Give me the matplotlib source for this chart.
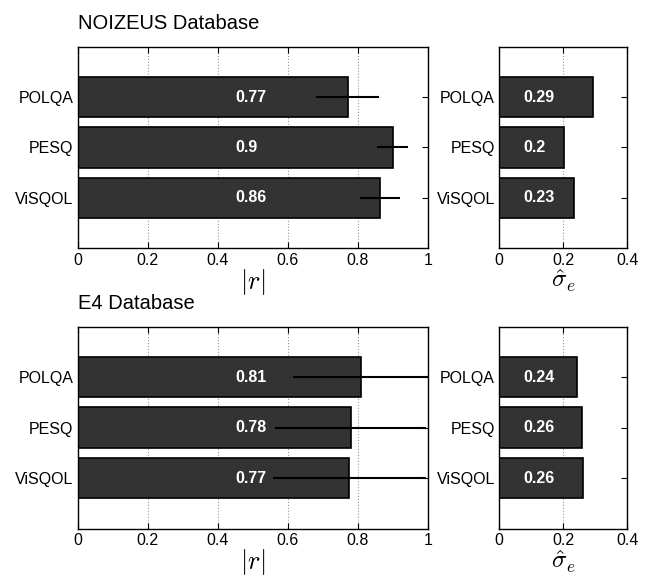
import matplotlib.pyplot as plt
import numpy as np

plt.rcParams['font.family'] = ['Liberation Sans', 'DejaVu Sans']
plt.rcParams['mathtext.fontset'] = 'cm'

# Daten
metrics = ['POLQA', 'PESQ', 'ViSQOL']

noizeus_r = [0.77, 0.90, 0.86]
noizeus_r_bars = [0.772, 0.900, 0.864]
noizeus_r_lo = [0.68, 0.855, 0.805]
noizeus_r_hi = [0.86, 0.943, 0.921]
noizeus_sigma = [0.29, 0.20, 0.23]
noizeus_sigma_bars = [0.294, 0.202, 0.233]

e4_r = [0.81, 0.78, 0.77]
e4_r_bars = [0.807, 0.779, 0.774]
e4_r_lo = [0.613, 0.563, 0.556]
e4_r_hi = [1.0, 0.993, 0.995]
e4_sigma = [0.24, 0.26, 0.26]
e4_sigma_bars = [0.242, 0.259, 0.262]

fig = plt.figure(figsize=(6.49, 5.77), dpi=100)

pos = np.arange(1, len(metrics) + 1)
bar_color = '#333333'


def style_axes(ax, xticks, xlim):
    ax.set_xlim(xlim)
    ax.set_ylim(4, 0)
    ax.set_xticks(xticks)
    ax.set_xticklabels(['%g' % t for t in xticks])
    ax.set_yticks(pos)
    ax.set_yticklabels(metrics)
    ax.tick_params(direction='in', top=True, right=True, labelsize=11.5, length=4)
    ax.tick_params(axis='y', length=4, pad=3)
    ax.xaxis.grid(True, linestyle=':', color='#999999', linewidth=0.8)
    ax.set_axisbelow(True)
    for s in ax.spines.values():
        s.set_linewidth(1.0)


def r_panel(rect, bars, vals, lo, hi, title):
    ax = fig.add_axes(rect)
    ax.barh(pos, bars, height=0.8, color=bar_color, edgecolor='black', linewidth=1.2, zorder=2)
    err = [np.array(bars) - np.array(lo), np.array(hi) - np.array(bars)]
    ax.errorbar(bars, pos, xerr=err, fmt='none', ecolor='black', elinewidth=1.5, capsize=0, zorder=3)
    for p, v in zip(pos, vals):
        ax.text(0.45, p, '%g' % v, color='white', fontweight='bold', fontsize=11.5,
                ha='left', va='center', zorder=4)
    style_axes(ax, [0, 0.2, 0.4, 0.6, 0.8, 1], (0, 1))
    ax.set_xlabel(r'$|r|$', fontsize=19, labelpad=-1)
    ax.set_title(title, loc='left', fontsize=14.5, pad=12.5)
    return ax


def sigma_panel(rect, bars, vals):
    ax = fig.add_axes(rect)
    ax.barh(pos, bars, height=0.8, color=bar_color, edgecolor='black', linewidth=1.2, zorder=2)
    for p, v in zip(pos, vals):
        ax.text(0.075, p, '%g' % v, color='white', fontweight='bold', fontsize=11.5,
                ha='left', va='center', zorder=4)
    style_axes(ax, [0, 0.2, 0.4], (0, 0.4))
    ax.set_xlabel(r'$\hat{\sigma}_e$', fontsize=18, labelpad=0)
    return ax


r_panel([0.1197, 0.5697, 0.540, 0.3494], noizeus_r_bars, noizeus_r,
        noizeus_r_lo, noizeus_r_hi, 'NOIZEUS Database')
sigma_panel([0.7693, 0.5697, 0.1972, 0.3494], noizeus_sigma_bars, noizeus_sigma)

r_panel([0.1197, 0.0840, 0.540, 0.3498], e4_r_bars, e4_r,
        e4_r_lo, e4_r_hi, 'E4 Database')
sigma_panel([0.7693, 0.0840, 0.1972, 0.3498], e4_sigma_bars, e4_sigma)

fig.savefig('out.png', dpi=100)
